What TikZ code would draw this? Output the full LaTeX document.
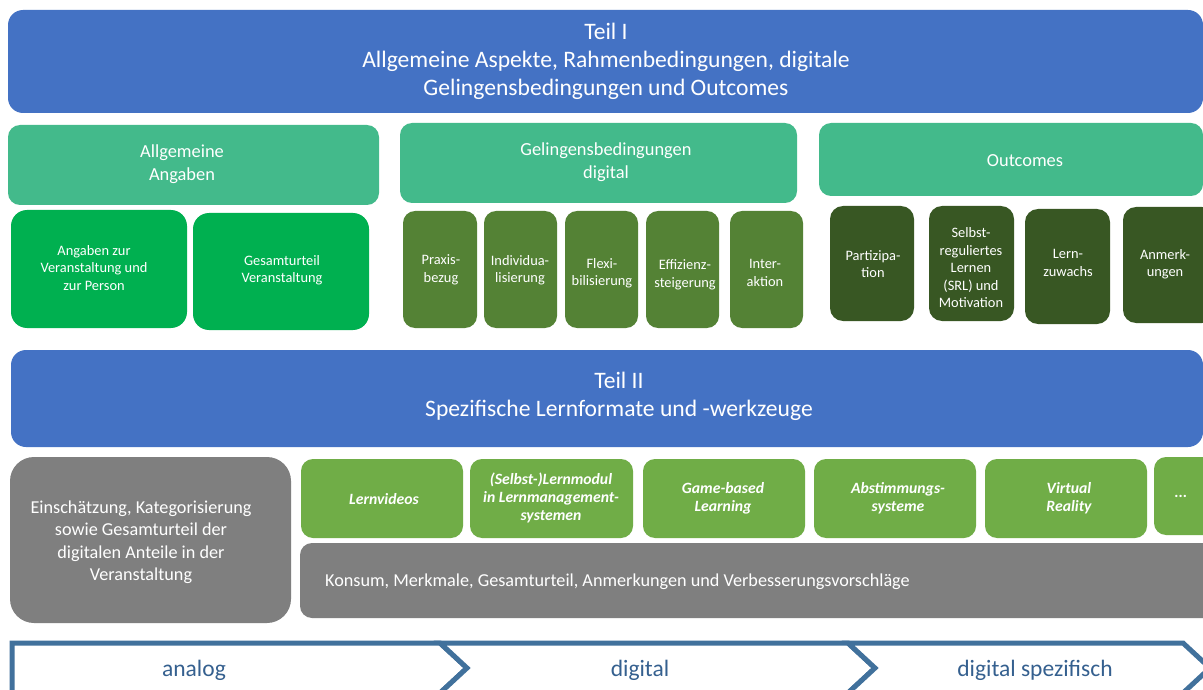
\documentclass[tikz,border=0pt]{standalone}
\usepackage{fontspec}
\setmainfont{Carlito}
\definecolor{partblue}{HTML}{4472C4}
\definecolor{headgreen}{HTML}{43BA8B}
\definecolor{brightgreen}{HTML}{00B050}
\definecolor{midgreen}{HTML}{548235}
\definecolor{darkgreen}{HTML}{385723}
\definecolor{lightgreen}{HTML}{70AD47}
\definecolor{panelgray}{HTML}{7F7F7F}
\definecolor{chevblue}{HTML}{41719C}
\definecolor{chevtext}{HTML}{35608F}

% box given by its corners: name, style, x1, y1, x2, y2
\newcommand\panel[6]{%
  \node[#2, minimum width={#5-#3}, minimum height={#6-#4}] (#1)
    at ({(#3+#5)/2},{(#4+#6)/2}) {};}

\begin{document}
\begin{tikzpicture}[x=1pt,y=-1pt,
  box/.style={rectangle, rounded corners=#1, inner sep=0pt, outer sep=0pt, draw=none},
  partbox/.style={box=15pt, fill=partblue},
  headbox/.style={box=12pt, fill=headgreen},
  infobox/.style={box=16pt, fill=brightgreen},
  condbox/.style={box=12pt, fill=midgreen},
  outbox/.style={box=13pt, fill=darkgreen},
  toolbox/.style={box=12pt, fill=lightgreen},
  graybox/.style={box=#1, fill=panelgray},
  lbl/.style={text=white, align=center, inner sep=0pt, yshift=-2pt},
  bigtxt/.style={lbl, font=\fontsize{23.6}{28}\selectfont},
  headtxt/.style={lbl, font=\fontsize{18.4}{22.5}\selectfont},
  smalltxt/.style={lbl, font=\fontsize{14.4}{17.5}\selectfont},
  tooltxt/.style={lbl, font=\fontsize{15.7}{18}\selectfont\bfseries\itshape},
  graytxt/.style={lbl, font=\fontsize{18.2}{22.5}\selectfont},
  chevron/.style={draw=chevblue, line width=5pt, fill=white, line join=miter},
  chevlbl/.style={text=chevtext, inner sep=0pt, yshift=-2pt, font=\fontsize{23.5}{28}\selectfont}
]
\useasboundingbox (0,0) rectangle (1203,690);
\fill[white] (0,0) rectangle (1203,690);
\clip (0,0) rectangle (1203,690);

% ---- Teil I ----
\panel{teil1}{partbox}{8}{10}{1203}{113}
\node[bigtxt] (teil1-t) at (606,59) {Teil I\\Allgemeine Aspekte, Rahmenbedingungen, digitale\\Gelingensbedingungen und Outcomes};

% ---- group headers ----
\panel{hAllg}{headbox}{8}{125}{379}{205}
\node[headtxt] (hAllg-t) at (182,162) {Allgemeine\\Angaben};
\panel{hGel}{headbox}{400}{123}{797}{203}
\node[headtxt] (hGel-t) at (606,160) {Gelingensbedingungen\\digital};
\panel{hOut}{headbox}{819}{123}{1203}{196}
\node[headtxt] (hOut-t) at (1025,159) {Outcomes};

% ---- general information ----
\panel{angaben}{infobox}{11}{210}{187}{328}
\node[smalltxt] (angaben-t) at (94,266) {Angaben zur\\Veranstaltung und\\zur Person};
\panel{gesamt}{infobox}{193}{213}{369}{330}
\node[smalltxt] (gesamt-t) at (282,268) {Gesamturteil\\Veranstaltung};

% ---- digital conditions ----
\panel{praxis}{condbox}{403}{211}{477}{328}
\node[smalltxt] (praxis-t) at (441,268) {Praxis-\\bezug};
\panel{indiv}{condbox}{484}{211}{557}{328}
\node[smalltxt] (indiv-t) at (520,268) {Individua-\\lisierung};
\panel{flexi}{condbox}{565}{211}{638}{328}
\node[smalltxt] (flexi-t) at (602,271) {Flexi-\\bilisierung};
\panel{effiz}{condbox}{646}{211}{719}{328}
\node[smalltxt] (effiz-t) at (685,273) {Effizienz-\\steigerung};
\panel{inter}{condbox}{730}{211}{803}{328}
\node[smalltxt] (inter-t) at (765,271) {Inter-\\aktion};

% ---- outcomes ----
\panel{partiz}{outbox}{830}{206}{914}{321}
\node[smalltxt] (partiz-t) at (873,262) {Partizipa-\\tion};
\panel{srl}{outbox}{929}{206}{1014}{321}
\node[smalltxt] (srl-t) at (971,266) {Selbst-\\reguliertes\\Lernen\\(SRL) und\\Motivation};
\panel{zuwachs}{outbox}{1025}{209}{1110}{324}
\node[smalltxt] (zuwachs-t) at (1068,261) {Lern-\\zuwachs};
\panel{anmerk}{outbox}{1123}{207}{1215}{323}
\node[smalltxt] (anmerk-t) at (1165,262) {Anmerk-\\ungen};

% ---- Teil II ----
\panel{teil2}{partbox}{11}{350}{1203}{447}
\node[bigtxt] (teil2-t) at (619,394) {Teil II\\Spezifische Lernformate und -werkzeuge};

% ---- overall rating ----
\panel{einsch}{graybox=24pt}{10}{457}{291}{623}
\node[graytxt] (einsch-t) at (141,540) {Einschätzung, Kategorisierung\\sowie Gesamturteil der\\digitalen Anteile in der\\Veranstaltung};

% ---- learning tools ----
\panel{videos}{toolbox}{301}{459}{463}{538}
\node[tooltxt] (videos-t) at (384,497) {Lernvideos};
\panel{lms}{toolbox}{470}{459}{633}{538}
\node[tooltxt] (lms-t) at (551,496) {(Selbst-)Lernmodul\\in Lernmanagement-\\systemen};
\panel{game}{toolbox}{643}{459}{805}{538}
\node[tooltxt] (game-t) at (723,496) {Game-based\\Learning};
\panel{vote}{toolbox}{814}{459}{976}{538}
\node[tooltxt] (vote-t) at (898,496) {Abstimmungs-\\systeme};
\panel{vr}{toolbox}{985}{459}{1147}{538}
\node[tooltxt] (vr-t) at (1069,496) {Virtual\\Reality};
\panel{more}{toolbox}{1154}{457}{1215}{535}
\node[tooltxt] (more-t) at (1181,494) {...};

\panel{konsum}{graybox=12pt}{300}{543}{1215}{618}
\node[graytxt, anchor=west] (konsum-t) at (325,580) {Konsum, Merkmale, Gesamturteil, Anmerkungen und Verbesserungsvorschläge};

% ---- process chevrons ----
\draw[chevron] (12,643) -- (440,643) -- (467,668) -- (440,693) -- (12,693) -- cycle;
\draw[chevron] (440,643) -- (848,643) -- (875,668) -- (848,693) -- (440,693) -- (467,668) -- cycle;
\draw[chevron] (848,643) -- (1183,643) -- (1210,668) -- (1183,693) -- (848,693) -- (875,668) -- cycle;
\node[chevlbl] (analog) at (194,668) {analog};
\node[chevlbl] (digital) at (640,668) {digital};
\node[chevlbl] (spezif) at (1035,668) {digital spezifisch};
\end{tikzpicture}
\end{document}
